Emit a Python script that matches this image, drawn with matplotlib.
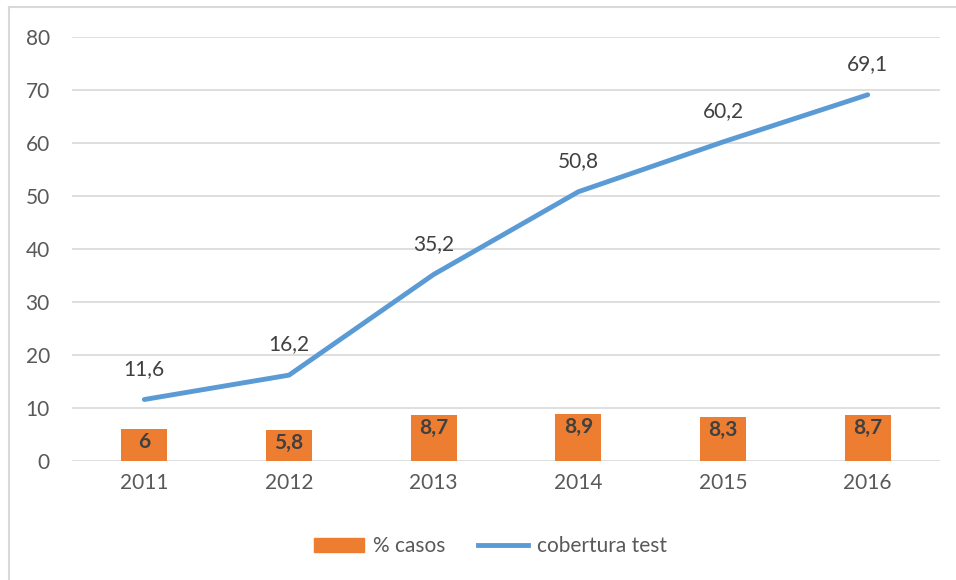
import matplotlib.pyplot as plt
import numpy as np
from matplotlib.lines import Line2D
from matplotlib.patches import Patch

years = ["2011", "2012", "2013", "2014", "2015", "2016"]
casos = [6, 5.8, 8.7, 8.9, 8.3, 8.7]
cobertura = [11.6, 16.2, 35.2, 50.8, 60.2, 69.1]


def fmt(v):
    # coma decimal, como en el original
    return (f"{v:g}").replace(".", ",")


plt.rcParams["font.family"] = ["Lato", "DejaVu Sans"]
gray = "#595959"

fig = plt.figure(figsize=(9.56, 5.8), dpi=100)
ax = fig.add_axes([0.0753, 0.2052, 0.908, 0.731])

x = np.arange(len(years))
ax.bar(x, casos, width=0.32, color="#ED7D31", zorder=2)
ax.plot(x, cobertura, color="#5B9BD5", lw=3.5, solid_capstyle="round", zorder=3)

for xi, v in zip(x, casos):
    ax.annotate(fmt(v), (xi, v), xytext=(0, -2), textcoords="offset points",
                ha="center", va="top", fontsize=15, fontweight="bold", color="#404040")
for xi, v in zip(x, cobertura):
    ax.annotate(fmt(v), (xi, v), xytext=(0, 15), textcoords="offset points",
                ha="center", va="bottom", fontsize=15, color="#404040")

ax.set_xlim(-0.5, len(years) - 0.5)
ax.set_ylim(0, 80)
ax.set_yticks(range(0, 81, 10))
ax.set_xticks(x)
ax.set_xticklabels(years)
ax.tick_params(length=0, labelsize=15, colors=gray, pad=9)
ax.tick_params(axis="y", pad=16)
ax.grid(axis="y", color="#D9D9D9", lw=1.2, zorder=0)
for s in ax.spines.values():
    s.set_visible(False)

handles = [Patch(color="#ED7D31"), Line2D([0], [0], color="#5B9BD5", lw=3.5)]
fig.legend(handles, ["% casos", "cobertura test"], loc="center",
           bbox_to_anchor=(0.513, 0.058), ncol=2, frameon=False, fontsize=15,
           labelcolor=gray, handlelength=2.4, handletextpad=0.4, columnspacing=1.6)

# borde del grafico
fig.add_artist(Line2D([0.009, 0.009], [0, 0.988], color="#D9D9D9", lw=1.5))
fig.add_artist(Line2D([0.009, 1], [0.988, 0.988], color="#D9D9D9", lw=1.5))

fig.savefig("out.png", dpi=100)
